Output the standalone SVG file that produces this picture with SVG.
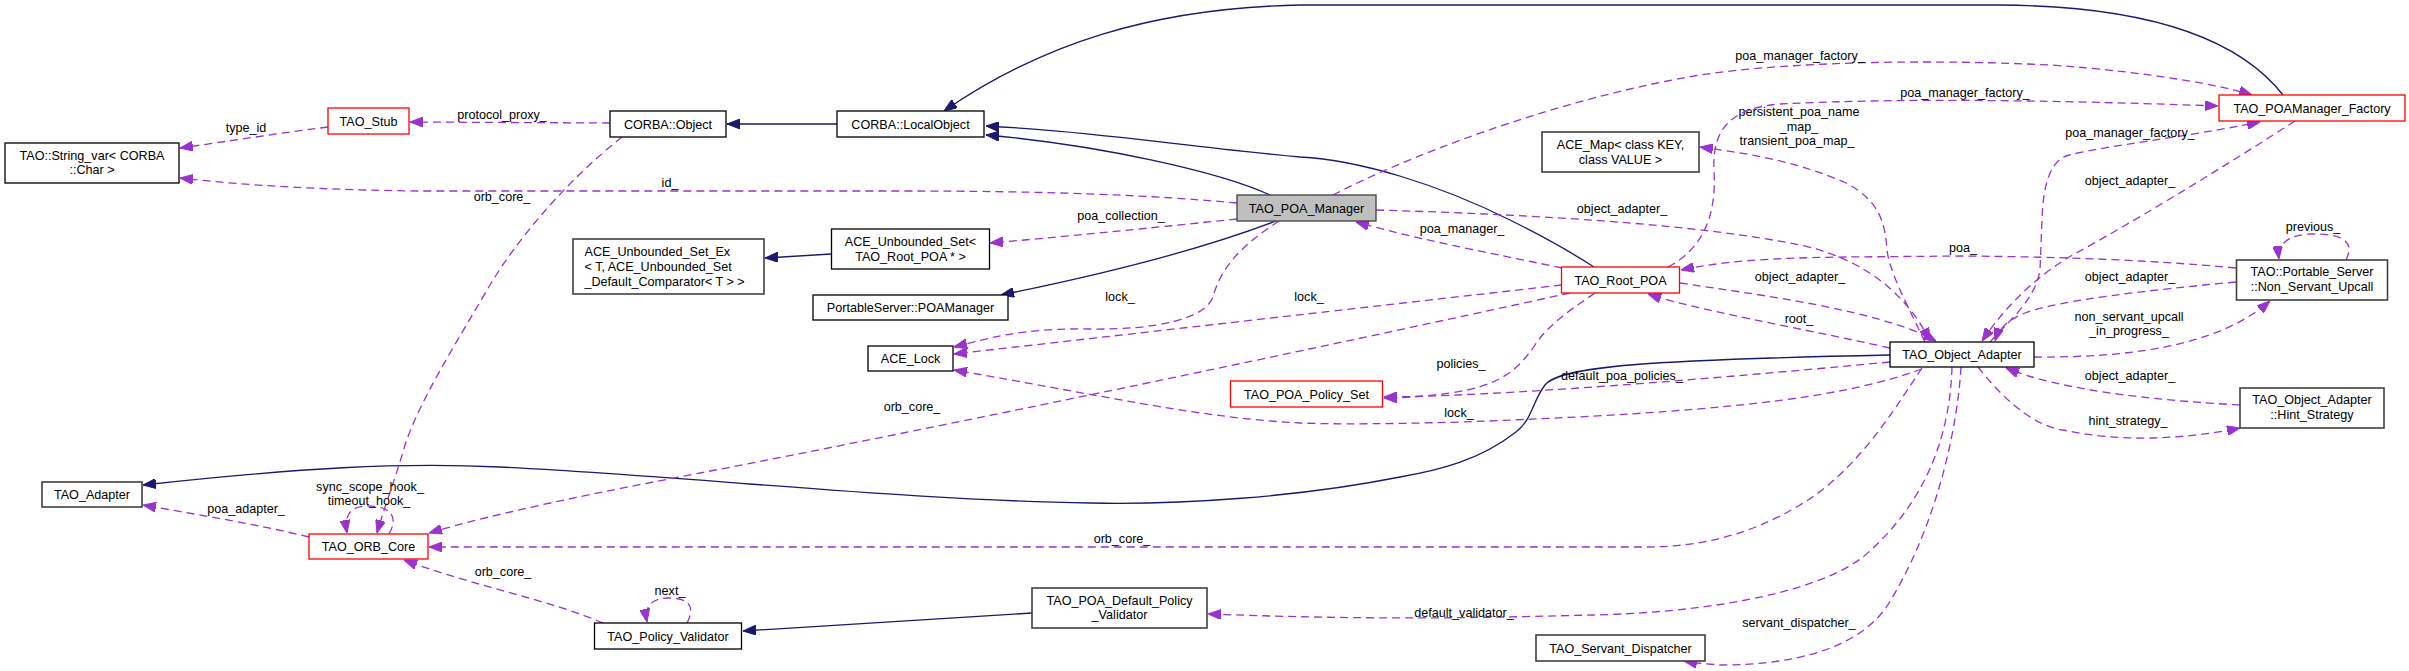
<svg xmlns="http://www.w3.org/2000/svg" width="2409" height="671" viewBox="0 0 2409 671">
<style>
text{font-family:"Liberation Sans",Arial,Helvetica,sans-serif;font-size:12.6px;fill:#000}
.c{text-anchor:middle}
.l{text-anchor:start}
rect{fill:#fff;stroke:#000;stroke-width:1.3}
rect.g{stroke:#404040;stroke-width:1.6}
rect.r{stroke:#ff0000;stroke-width:1.3}
rect.h{fill:#bfbfbf;stroke:#404040}
path.d{fill:none;stroke:#9a32cd;stroke-width:1.3;stroke-dasharray:8,5;marker-end:url(#mp)}
path.s{fill:none;stroke:#191970;stroke-width:1.3;marker-end:url(#mn)}
</style>
<defs>
<marker id="mp" viewBox="0 0 13 10" refX="13" refY="5" markerWidth="13" markerHeight="10" markerUnits="userSpaceOnUse" orient="auto"><path d="M0,0L13,5L0,10z" fill="#9a32cd" stroke="#9a32cd" stroke-width="1"/></marker>
<marker id="mn" viewBox="0 0 13 10" refX="13" refY="5" markerWidth="13" markerHeight="10" markerUnits="userSpaceOnUse" orient="auto"><path d="M0,0L13,5L0,10z" fill="#191970" stroke="#191970" stroke-width="1"/></marker>
</defs>
<rect x="0" y="0" width="2409" height="671" style="fill:#fff;stroke:none"/>
<g id="connectors">
<path class="s" d="M837,124 L727,124"/>
<path class="s" d="M2283,95 C2240,40 2150,6 2000,5 L1300,5 C1150,8 1040,45 944,111"/>
<path class="s" d="M1594,267 C1560,245 1530,230 1510,220 C1440,185 1360,160 1300,157 C1200,148 1100,132 986,126"/>
<path class="s" d="M1270,195 C1220,172 1100,145 986,135"/>
<path class="s" d="M1276,221 C1200,250 1100,275 1001,295"/>
<path class="s" d="M831,254 L765,258"/>
<path class="s" d="M1890,355 C1650,360 1560,366 1545,385 C1532,402 1532,420 1516,432 C1480,460 1440,470 1400,477 C1300,497 1180,505 1090,503 C900,500 700,477 500,467 C400,462 300,468 143,485"/>
<path class="s" d="M1032,613 L743,631"/>

<path class="d" d="M328,127 C280,133 230,141 180,148"/>
<text class="c" x="246" y="132">type_id</text>
<path class="d" d="M610,123 L410,122"/>
<text class="c" x="502" y="119">protocol_proxy_</text>
<path class="d" d="M622,137 C570,178 520,235 490,285 C455,345 420,400 405,445 C395,480 385,505 377,533"/>
<text class="c" x="502" y="201">orb_core_</text>
<path class="d" d="M1237,203 C1150,195 1050,191 900,191 L420,191 C330,190 250,186 180,178"/>
<text class="c" x="670" y="187">id_</text>
<path class="d" d="M1237,219 C1150,228 1050,238 990,243"/>
<text class="c" x="1121" y="220">poa_collection_</text>
<path class="d" d="M1562,268 C1500,255 1420,240 1356,222"/>
<text class="c" x="1462" y="233">poa_manager_</text>
<path class="d" d="M1279,221 C1250,240 1222,262 1213,297 C1205,318 1160,330 1090,329 C1020,328 990,338 954,347"/>
<text class="c" x="1120" y="301">lock_</text>
<path class="d" d="M1562,285 L954,354"/>
<text class="c" x="1309" y="301">lock_</text>
<path class="d" d="M1922,369 C1850,395 1750,410 1512,420 C1450,423 1350,425 1300,423 C1200,418 1100,395 954,370"/>
<text class="c" x="1459" y="417">lock_</text>
<path class="d" d="M1595,293 C1570,310 1548,325 1535,345 C1518,370 1500,386 1450,393 C1420,397 1400,398 1384,398"/>
<text class="c" x="1461" y="368">policies_</text>
<path class="d" d="M1890,362 C1700,380 1500,396 1384,397"/>
<text class="c" x="1622" y="380">default_poa_policies_</text>
<path class="d" d="M1570,293 C1300,352 950,425 700,473 C600,492 500,512 429,533"/>
<text class="c" x="912" y="411">orb_core_</text>
<path class="d" d="M1922,368 C1900,400 1860,470 1800,505 C1750,535 1700,547 1645,547 L429,547"/>
<text class="c" x="1122" y="543">orb_core_</text>
<path class="d" d="M309,537 C260,525 200,515 143,505"/>
<text class="c" x="246" y="513">poa_adapter_</text>
<path class="d" d="M389,534 C400,515 388,506 368,506 C350,506 344,515 347,533"/>
<text class="c" x="370" y="491">sync_scope_hook_</text>
<text class="c" x="369" y="505">timeout_hook_</text>
<path class="d" d="M603,623 C550,600 470,585 404,560"/>
<text class="c" x="503" y="576">orb_core_</text>
<path class="d" d="M687,623 C697,604 686,598 668,598 C652,598 644,606 647,622"/>
<text class="c" x="670" y="595">next_</text>
<path class="d" d="M1952,367 C1950,430 1930,500 1863,557 C1820,590 1720,612 1593,615 C1500,617 1400,621 1208,614"/>
<text class="c" x="1464" y="617">default_validator_</text>
<path class="d" d="M1961,367 C1958,420 1940,520 1889,603 C1860,650 1790,665 1722,665 C1705,664 1695,663 1684,661"/>
<text class="c" x="1799" y="627">servant_dispatcher_</text>
<path class="d" d="M1978,367 C2000,395 2030,425 2063,430 C2120,442 2180,440 2240,428"/>
<text class="c" x="2128" y="425">hint_strategy_</text>
<path class="d" d="M2240,405 C2150,400 2060,390 2006,368"/>
<text class="c" x="2130" y="380">object_adapter_</text>
<path class="d" d="M2034,357 C2150,358 2225,340 2270,301"/>
<text class="c" x="2129" y="321">non_servant_upcall</text>
<text class="c" x="2129" y="335">_in_progress_</text>
<path class="d" d="M2236,282 C2150,290 2060,300 2025,313 C2008,320 1999,328 1995,341"/>
<text class="c" x="2130" y="281">object_adapter_</text>
<path class="d" d="M2346,260 C2356,240 2340,234 2313,234 C2290,234 2277,243 2279,259"/>
<text class="c" x="2313" y="231">previous_</text>
<path class="d" d="M2236,268 C2150,260 2069,257 1963,256 L1846,257 C1760,258 1720,262 1681,270"/>
<text class="c" x="1963" y="252">poa_</text>
<path class="d" d="M1890,348 C1795,327 1696,310 1648,294"/>
<text class="c" x="1799" y="323">root_</text>
<path class="d" d="M1680,283 C1760,295 1880,310 1936,341"/>
<text class="c" x="1800" y="281">object_adapter_</text>
<path class="d" d="M1376,210 C1550,215 1700,225 1800,245 C1870,260 1910,300 1930,341"/>
<text class="c" x="1622" y="213">object_adapter_</text>
<path class="d" d="M1925,342 C1905,300 1890,273 1887,250 C1885,220 1878,200 1846,183 C1800,163 1760,155 1700,147"/>
<text class="c" x="1799" y="116">persistent_poa_name</text>
<text class="c" x="1799" y="131">_map_</text>
<text class="c" x="1797" y="145">transient_poa_map_</text>
<path class="d" d="M1668,267 C1700,250 1717,220 1714,170 C1712,130 1730,108 1780,104 C1900,98 2050,100 2218,106"/>
<text class="c" x="1965" y="97">poa_manager_factory_</text>
<path class="d" d="M1333,195 C1400,160 1550,100 1700,75 C1800,60 1950,60 2050,65 C2150,72 2220,85 2252,95"/>
<text class="c" x="1800" y="60">poa_manager_factory_</text>
<path class="d" d="M2295,121 C2250,150 2150,213 2069,257 C2040,275 2010,300 1982,341"/>
<text class="c" x="2130" y="185">object_adapter_</text>
<path class="d" d="M1990,342 C2010,320 2035,300 2040,270 L2042,220 C2043,185 2050,160 2069,155 C2110,145 2180,138 2260,122"/>
<text class="c" x="2130" y="137">poa_manager_factory_</text>
</g>

<g id="n_string_var"><rect x="5" y="143" width="174" height="40"/><text class="c" x="92" y="159.5">TAO::String_var&lt; CORBA</text><text class="c" x="92" y="173.5">::Char &gt;</text></g>
<g id="n_tao_stub"><rect class="r" x="328" y="108" width="81" height="26"/><text class="c" x="368.5" y="125.5">TAO_Stub</text></g>
<g id="n_corba_object"><rect x="610" y="111" width="116" height="26"/><text class="c" x="668" y="128.5">CORBA::Object</text></g>
<g id="n_corba_localobject"><rect x="837" y="111" width="147" height="26"/><text class="c" x="910.5" y="128.5">CORBA::LocalObject</text></g>
<g id="n_tao_poa_manager"><rect class="h" x="1237" y="195" width="139" height="26"/><text class="c" x="1306.5" y="212.5">TAO_POA_Manager</text></g>
<g id="n_ace_unbounded_set_ex"><rect class="g" x="573" y="239" width="191" height="55"/><text class="l" x="584.5" y="255.5">ACE_Unbounded_Set_Ex</text><text class="l" x="584.5" y="270.5">&lt; T, ACE_Unbounded_Set</text><text class="l" x="584.5" y="285.5">_Default_Comparator&lt; T &gt; &gt;</text></g>
<g id="n_ace_unbounded_set"><rect x="831.5" y="229" width="158" height="40"/><text class="c" x="910.5" y="245.5">ACE_Unbounded_Set&lt;</text><text class="c" x="910.5" y="260.5">TAO_Root_POA * &gt;</text></g>
<g id="n_poamanager"><rect x="813" y="295" width="195" height="25"/><text class="c" x="910.5" y="312">PortableServer::POAManager</text></g>
<g id="n_ace_lock"><rect x="868" y="346" width="85" height="25"/><text class="c" x="910.5" y="363">ACE_Lock</text></g>
<g id="n_tao_root_poa"><rect class="r" x="1561.5" y="267" width="118" height="26"/><text class="c" x="1620.5" y="284.5">TAO_Root_POA</text></g>
<g id="n_ace_map"><rect class="g" x="1542" y="132" width="157" height="40"/><text class="c" x="1620.5" y="148.5">ACE_Map&lt; class KEY,</text><text class="c" x="1620.5" y="163.5">class VALUE &gt;</text></g>
<g id="n_poamanager_factory"><rect class="r" x="2219" y="95" width="186" height="26"/><text class="c" x="2312" y="112.5">TAO_POAManager_Factory</text></g>
<g id="n_object_adapter"><rect x="1890" y="342" width="144" height="25"/><text class="c" x="1962" y="359">TAO_Object_Adapter</text></g>
<g id="n_non_servant_upcall"><rect class="g" x="2236.5" y="260" width="151" height="40"/><text class="c" x="2312" y="276">TAO::Portable_Server</text><text class="c" x="2312" y="291">::Non_Servant_Upcall</text></g>
<g id="n_hint_strategy"><rect class="g" x="2240" y="388" width="144" height="40"/><text class="c" x="2312" y="403.5">TAO_Object_Adapter</text><text class="c" x="2312" y="418.5">::Hint_Strategy</text></g>
<g id="n_poa_policy_set"><rect class="r" x="1230.5" y="381" width="152" height="26"/><text class="c" x="1306.5" y="398.5">TAO_POA_Policy_Set</text></g>
<g id="n_tao_adapter"><rect class="g" x="42" y="482" width="100" height="25"/><text class="c" x="92" y="499">TAO_Adapter</text></g>
<g id="n_orb_core"><rect class="r" x="309" y="534" width="119" height="25"/><text class="c" x="368.5" y="551">TAO_ORB_Core</text></g>
<g id="n_policy_validator"><rect x="594.5" y="623" width="147" height="26"/><text class="c" x="668" y="640.5">TAO_Policy_Validator</text></g>
<g id="n_default_policy_validator"><rect class="g" x="1032" y="588" width="175" height="40"/><text class="c" x="1119.5" y="604.5">TAO_POA_Default_Policy</text><text class="c" x="1119.5" y="618.5">_Validator</text></g>
<g id="n_servant_dispatcher"><rect class="g" x="1536" y="635" width="169" height="26"/><text class="c" x="1620.5" y="652.5">TAO_Servant_Dispatcher</text></g>
</svg>
